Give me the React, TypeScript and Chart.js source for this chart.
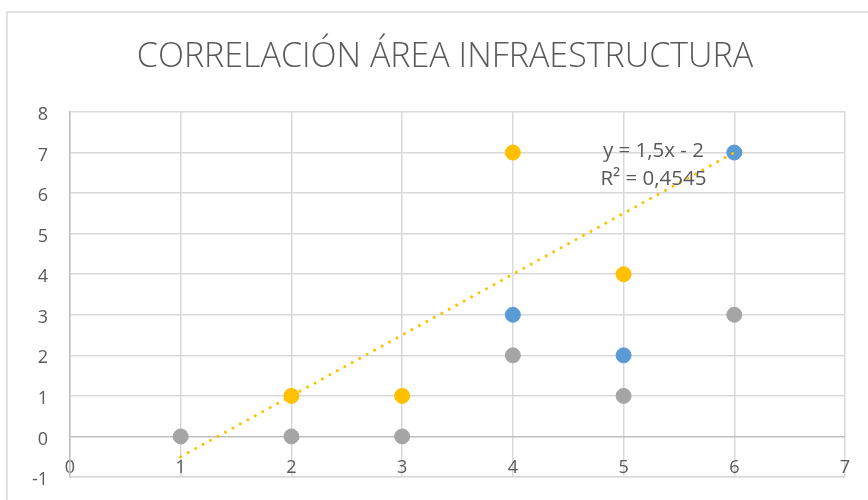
import { useEffect, useRef } from 'react';
import { Chart, registerables } from 'chart.js';

Chart.register(...registerables);

const TITLE = 'CORRELACIÓN ÁREA INFRAESTRUCTURA';

// Series values (x = category position, y = value)
const blueX = [4, 5, 6];
const blueY = [3, 2, 7];
const orangeX = [2, 3, 4, 5];
const orangeY = [1, 1, 7, 4];
const grayX = [1, 2, 3, 4, 5, 6];
const grayY = [0, 0, 0, 2, 1, 3];

// Linear trendline of the orange series (y = 1,5x - 2), drawn from x=1 to x=6
const trendX = [1, 6];
const trendY = [-0.5, 7];
const trendLabel = ['y = 1,5x - 2', 'R² = 0,4545'];
const trendLabelAt = { x: 5.27, y: [6.9, 6.21] };

// Axis ranges
const xMin = 0, xMax = 7;
const yMin = -1, yMax = 8;

const BLUE = '#5b9bd5';
const ORANGE = '#ffc000';
const GRAY = '#a5a5a5';
const TEXT = '#595959';
const GRID = '#d9d9d9';
const FONT = "'Open Sans', 'Noto Sans', sans-serif";

const pts = (xs: number[], ys: number[]) => xs.map((x, i) => ({ x, y: ys[i] }));

const framePlugin = {
  id: 'frame',
  beforeDraw(chart: any) {
    const { ctx } = chart;
    ctx.save();
    ctx.fillStyle = '#ffffff';
    ctx.fillRect(0, 0, chart.width, chart.height);
    ctx.strokeStyle = GRID;
    ctx.lineWidth = 1.5;
    ctx.strokeRect(7, 12, chart.width + 20, chart.height + 20);
    // chart title
    ctx.fillStyle = TEXT;
    ctx.font = `300 34px ${FONT}`;
    ctx.textAlign = 'center';
    ctx.textBaseline = 'alphabetic';
    ctx.fillText(TITLE, 445, 67);
    ctx.restore();
  },
};

const equationPlugin = {
  id: 'equation',
  afterDatasetsDraw(chart: any) {
    const { ctx, scales } = chart;
    ctx.save();
    ctx.fillStyle = TEXT;
    ctx.font = `20.5px ${FONT}`;
    ctx.textAlign = 'center';
    ctx.textBaseline = 'alphabetic';
    const px = scales.x.getPixelForValue(trendLabelAt.x);
    trendLabel.forEach((t, i) => {
      ctx.fillText(t, px, scales.y.getPixelForValue(trendLabelAt.y[i]));
    });
    ctx.restore();
  },
};

export default function App() {
  const ref = useRef<HTMLCanvasElement>(null);
  useEffect(() => {
    const chart = new Chart(ref.current!, {
      type: 'scatter',
      data: {
        datasets: [
          {
            type: 'line',
            label: 'Lineal',
            data: pts(trendX, trendY),
            borderColor: ORANGE,
            borderWidth: 3,
            borderDash: [0.01, 8.5],
            borderCapStyle: 'round',
            pointRadius: 0,
            fill: false,
          } as any,
          {
            label: 'Serie 3',
            data: pts(grayX, grayY),
            backgroundColor: GRAY,
            borderColor: GRAY,
            borderWidth: 1,
            pointRadius: 7.5,
          },
          {
            label: 'Serie 2',
            data: pts(orangeX, orangeY),
            backgroundColor: ORANGE,
            borderColor: ORANGE,
            borderWidth: 1,
            pointRadius: 7.5,
          },
          {
            label: 'Serie 1',
            data: pts(blueX, blueY),
            backgroundColor: BLUE,
            borderColor: BLUE,
            borderWidth: 1,
            pointRadius: 7.5,
          },
        ],
      },
      options: {
        animation: false,
        responsive: false,
        maintainAspectRatio: false,
        layout: { padding: { top: 112, right: 23, bottom: 23, left: 0 } },
        plugins: {
          legend: { display: false },
          tooltip: { enabled: false },
          title: { display: false },
        },
        scales: {
          x: {
            type: 'linear',
            position: 'bottom',
            min: xMin,
            max: xMax,
            ticks: { stepSize: 1, color: TEXT, font: { family: FONT, size: 18 }, mirror: true, padding: -2 },
            grid: { color: GRID, lineWidth: 1.5, drawTicks: false },
            border: { color: GRID, width: 1.5 },
            afterFit: (s: any) => { s.height = 0; s.paddingLeft = 0; s.paddingRight = 0; },
          },
          y: {
            type: 'linear',
            min: yMin,
            max: yMax,
            ticks: { stepSize: 1, color: TEXT, font: { family: FONT, size: 18 }, padding: 22, labelOffset: 3 },
            grid: {
              color: (c: any) => (c.tick && c.tick.value === 0 ? '#bfbfbf' : GRID),
              lineWidth: 1.5,
              drawTicks: false,
            },
            border: { color: '#bfbfbf', width: 1.5 },
            afterFit: (s: any) => { s.width = 70; s.paddingTop = 0; s.paddingBottom = 0; },
          },
        },
      },
      plugins: [framePlugin, equationPlugin],
    });
    return () => chart.destroy();
  }, []);
  return (
    <div style={{ position: 'fixed', left: 0, top: 0, width: 868, height: 500, background: '#fff' }}>
      <canvas ref={ref} width={868} height={500} style={{ display: 'block' }} />
    </div>
  );
}
